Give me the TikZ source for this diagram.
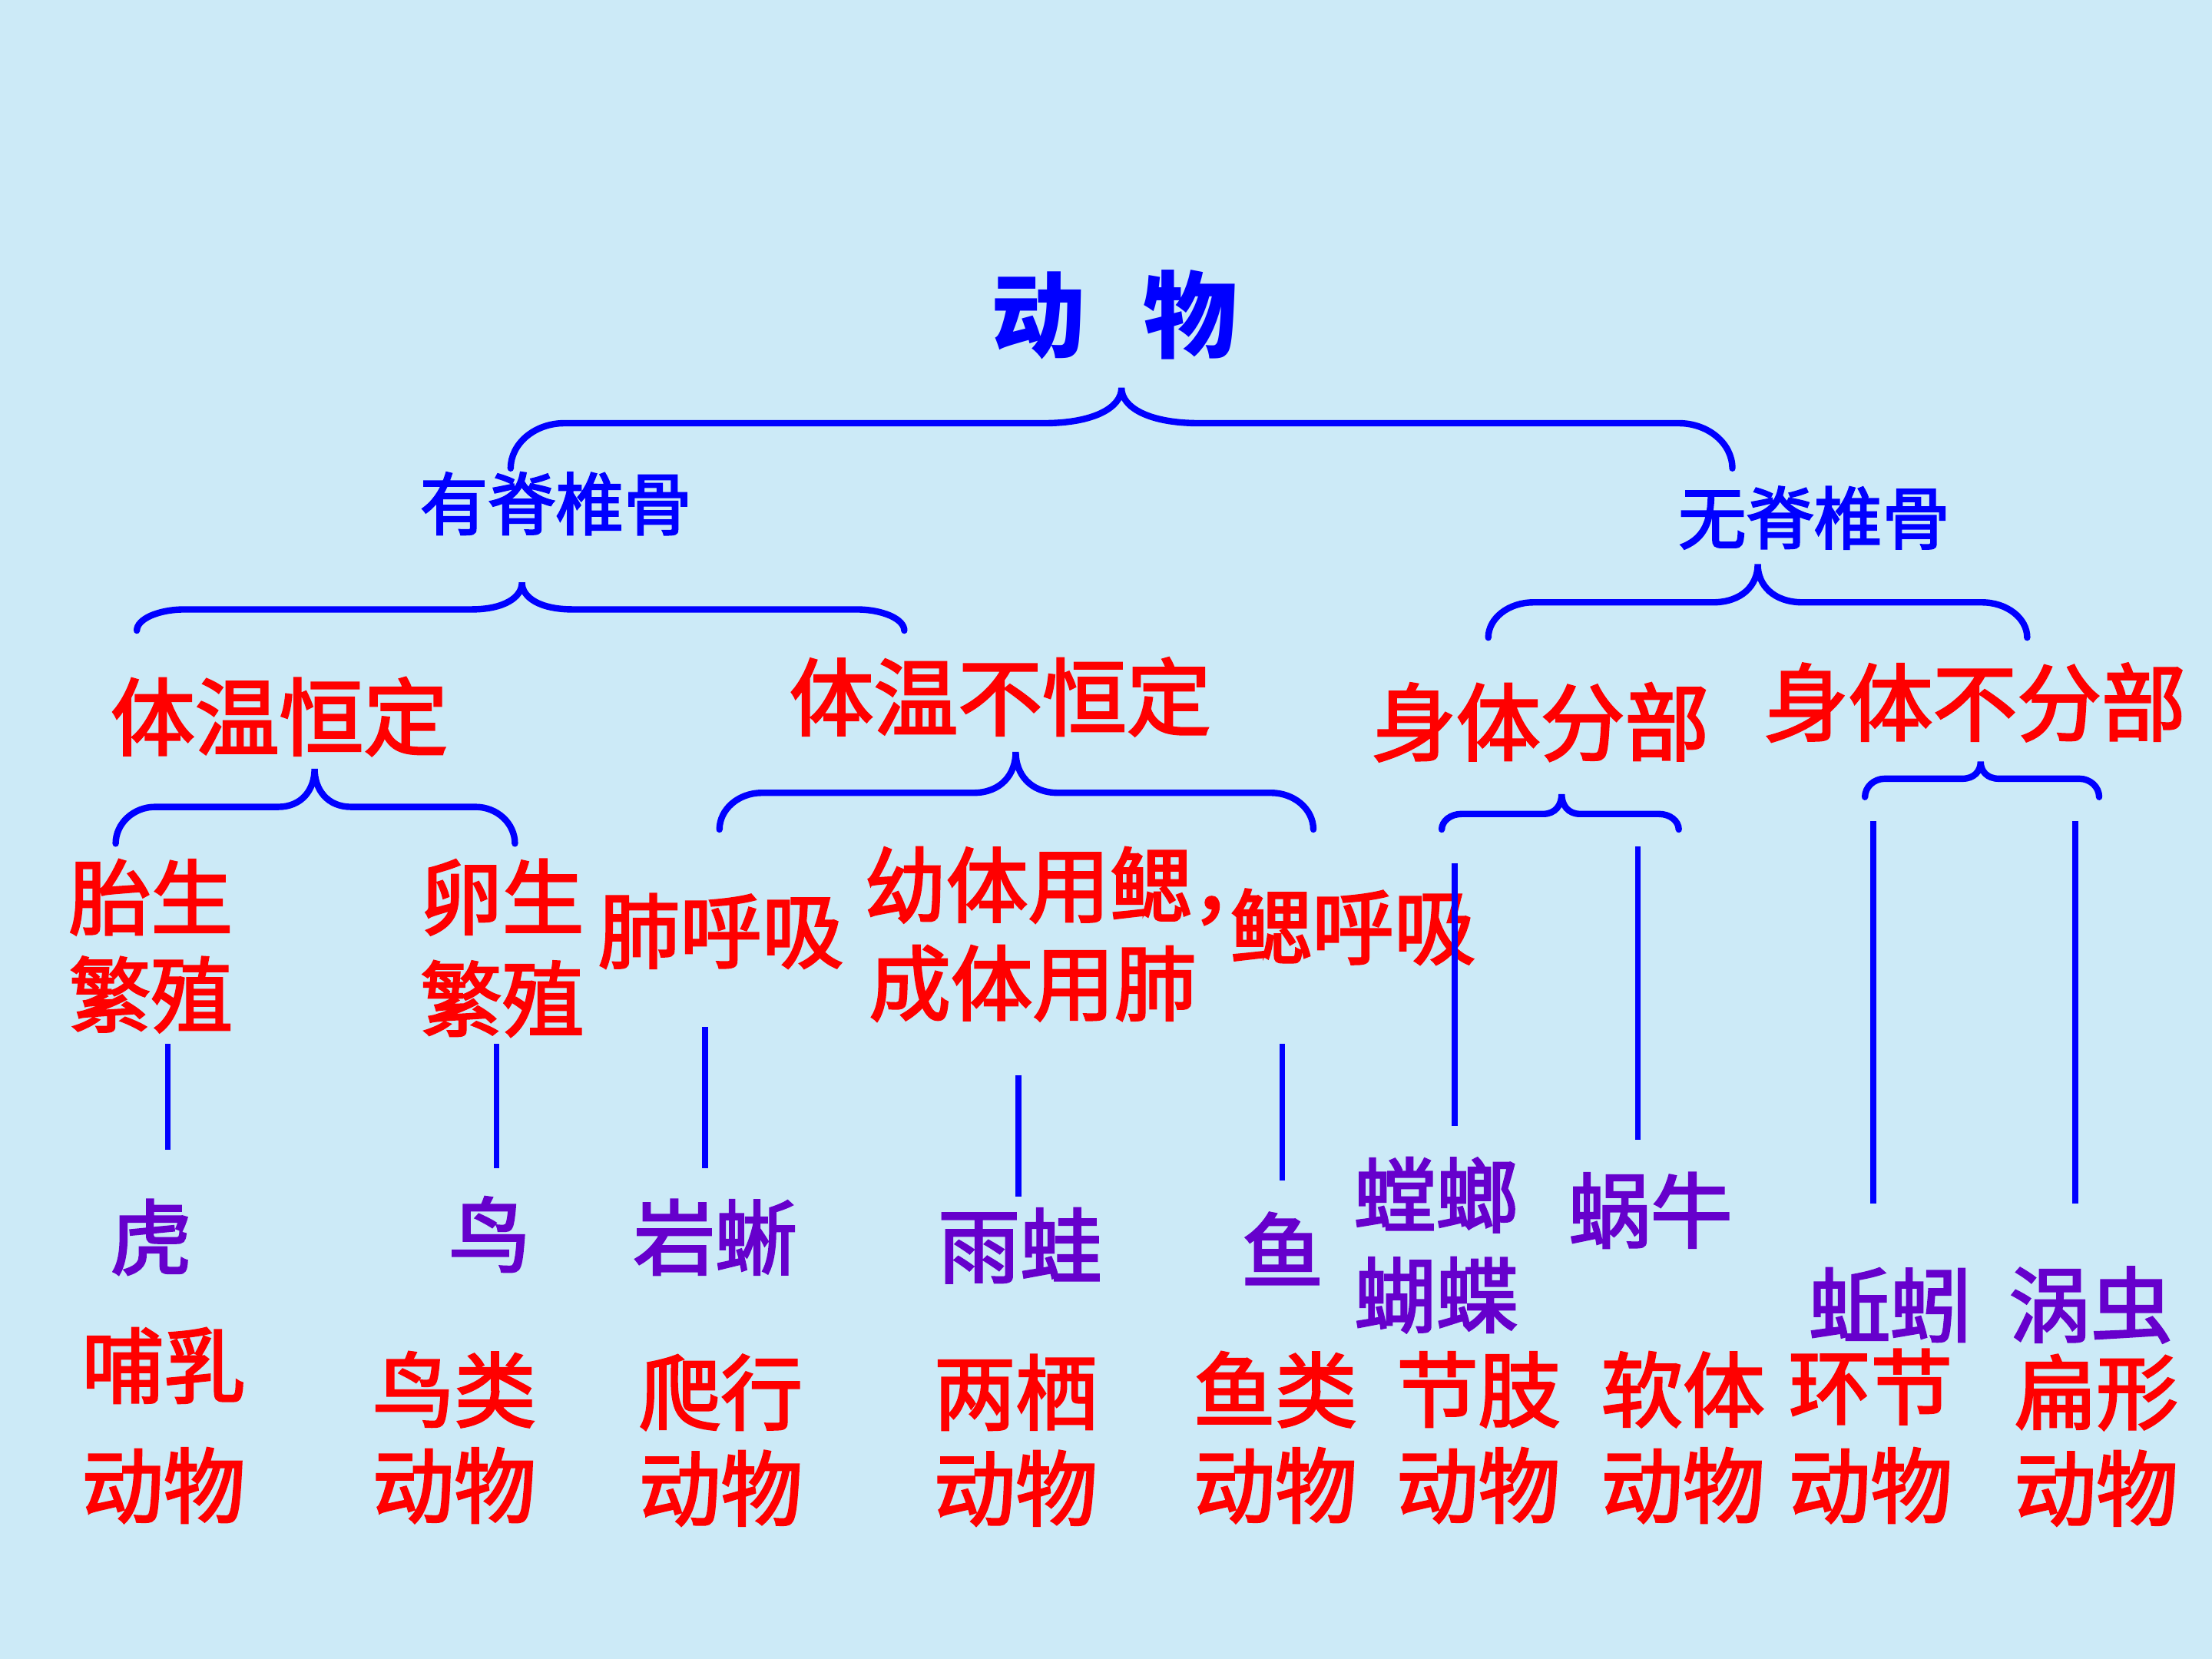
\documentclass[tikz,border=0pt]{standalone}
\usepackage{fontspec}
\newfontfamily\cjk{Noto Sans CJK SC}
\newfontfamily\cjkm[FakeBold=2.5]{Noto Sans CJK SC}
\definecolor{bgblue}{RGB}{204,234,247}
\definecolor{lineblue}{RGB}{0,0,255}
\definecolor{txtred}{RGB}{255,0,0}
\definecolor{txtpurple}{RGB}{102,0,204}
\newcommand{\mybrace}[8]{%
\draw[bracestyle] (#1,#3) .. controls (#1,{#4+0.45*(#3-#4)}) and ({#1+0.45*#7},#4) .. ({#1+#7},#4)
 -- ({#5-#8},#4) .. controls ({#5-0.35*#8},#4) and (#5,{#4-0.45*(#4-#6)}) .. (#5,#6)
 .. controls (#5,{#4-0.45*(#4-#6)}) and ({#5+0.35*#8},#4) .. ({#5+#8},#4)
 -- ({#2-#7},#4) .. controls ({#2-0.45*#7},#4) and (#2,{#4+0.45*(#3-#4)}) .. (#2,#3);}
\begin{document}
\begin{tikzpicture}[x=0.01cm,y=-0.01cm,
  bracestyle/.style={draw=lineblue,line width=1.3pt,line cap=round},
  vline/.style={draw=lineblue,line width=1.2pt},
  base/.style={inner sep=0pt,font=\cjkm},
  titletxt/.style={base,text=lineblue,font=\cjk\bfseries\fontsize{19pt}{22pt}\selectfont},
  subtxt/.style={base,text=lineblue,font=\cjkm\fontsize{13.7pt}{16pt}\selectfont},
  headtxt/.style={base,text=txtred,font=\cjkm\fontsize{17pt}{20pt}\selectfont},
  redtxt/.style={base,text=txtred,font=\cjkm\fontsize{16.5pt}{20pt}\selectfont},
  animtxt/.style={base,text=txtpurple,font=\cjkm\fontsize{16.5pt}{20pt}\selectfont}]
\fill[bgblue] (0,0) rectangle (1568,1176);
\useasboundingbox (0,0) rectangle (1568,1176);

% title and first level
\node[titletxt] (root) at (790,223) {动\hspace{0.62em}物};
\mybrace{362}{1228}{332}{300}{795}{275}{38}{55}
\node[subtxt] (vert) at (394,357) {有脊椎骨};
\node[subtxt] (invert) at (1286,367) {无脊椎骨};

% second level braces
\mybrace{97}{641}{447}{432}{370}{413}{34}{36}
\mybrace{1055}{1437}{452}{427}{1246}{400}{32}{32}

\node[headtxt] (warm) at (198,508) {体温恒定};
\node[headtxt] (cold) at (709,494) {体温不恒定};
\node[headtxt] (seg) at (1092,512) {身体分部};
\node[headtxt] (nseg) at (1400,498) {身体不分部};

% third level braces
\mybrace{82}{365}{598}{572}{223}{545}{28}{26}
\mybrace{510}{931}{588}{562}{720}{533}{30}{30}
\mybrace{1022}{1190}{588}{577}{1107}{563}{14}{13}
\mybrace{1322}{1488}{565}{552}{1404}{540}{14}{13}

% third level labels
\node[redtxt] (tai1) at (107,636) {胎生};
\node[redtxt] (tai2) at (107,705) {繁殖};
\node[redtxt] (luan1) at (356,636) {卵生};
\node[redtxt] (luan2) at (356,708) {繁殖};
\node[redtxt] (fei) at (511,660) {肺呼吸};
\node[redtxt,anchor=west] (you) at (612,628) {幼体用鳃，};
\node[redtxt] (cheng) at (732,697) {成体用肺};
\node[redtxt] (sai) at (959,657) {鳃呼吸};

% vertical connectors
\coordinate (l1a) at (119,740); \coordinate (l1b) at (119,815);
\coordinate (l2a) at (352,740); \coordinate (l2b) at (352,828);
\coordinate (l3a) at (500,728); \coordinate (l3b) at (500,828);
\coordinate (l4a) at (722,762); \coordinate (l4b) at (722,848);
\coordinate (l5a) at (909,740); \coordinate (l5b) at (909,837);
\coordinate (l6a) at (1031,612); \coordinate (l6b) at (1031,798);
\coordinate (l7a) at (1161,600); \coordinate (l7b) at (1161,808);
\coordinate (l8a) at (1328,582); \coordinate (l8b) at (1328,853);
\coordinate (l9a) at (1471,582); \coordinate (l9b) at (1471,853);
\foreach \i in {1,...,9} {\draw[vline] (l\i a) -- (l\i b);}

% animals
\node[animtxt] (hu) at (107,877) {虎};
\node[animtxt] (niao) at (347,875) {鸟};
\node[animtxt] (yanxi) at (507,877) {岩蜥};
\node[animtxt] (yuwa) at (723,883) {雨蛙};
\node[animtxt] (yu) at (909,885) {鱼};
\node[animtxt] (tanglang) at (1018,847) {螳螂};
\node[animtxt] (hudie) at (1018,918) {蝴蝶};
\node[animtxt] (woniu) at (1170,858) {蜗牛};
\node[animtxt] (qiuyin) at (1340,925) {蚯蚓};
\node[animtxt] (wochong) at (1482,925) {涡虫};

% categories
\node[redtxt] (c1a) at (116,968) {哺乳};   \node[redtxt] (c1b) at (116,1053) {动物};
\node[redtxt] (c2a) at (322,985) {鸟类};   \node[redtxt] (c2b) at (322,1053) {动物};
\node[redtxt] (c3a) at (511,987) {爬行};   \node[redtxt] (c3b) at (511,1055) {动物};
\node[redtxt] (c4a) at (720,987) {两栖};   \node[redtxt] (c4b) at (720,1055) {动物};
\node[redtxt] (c5a) at (904,985) {鱼类};   \node[redtxt] (c5b) at (904,1053) {动物};
\node[redtxt] (c6a) at (1048,985) {节肢};  \node[redtxt] (c6b) at (1048,1053) {动物};
\node[redtxt] (c7a) at (1193,985) {软体};  \node[redtxt] (c7b) at (1193,1053) {动物};
\node[redtxt] (c8a) at (1326,983) {环节};  \node[redtxt] (c8b) at (1326,1053) {动物};
\node[redtxt] (c9a) at (1486,987) {扁形};  \node[redtxt] (c9b) at (1486,1055) {动物};
\end{tikzpicture}
\end{document}
